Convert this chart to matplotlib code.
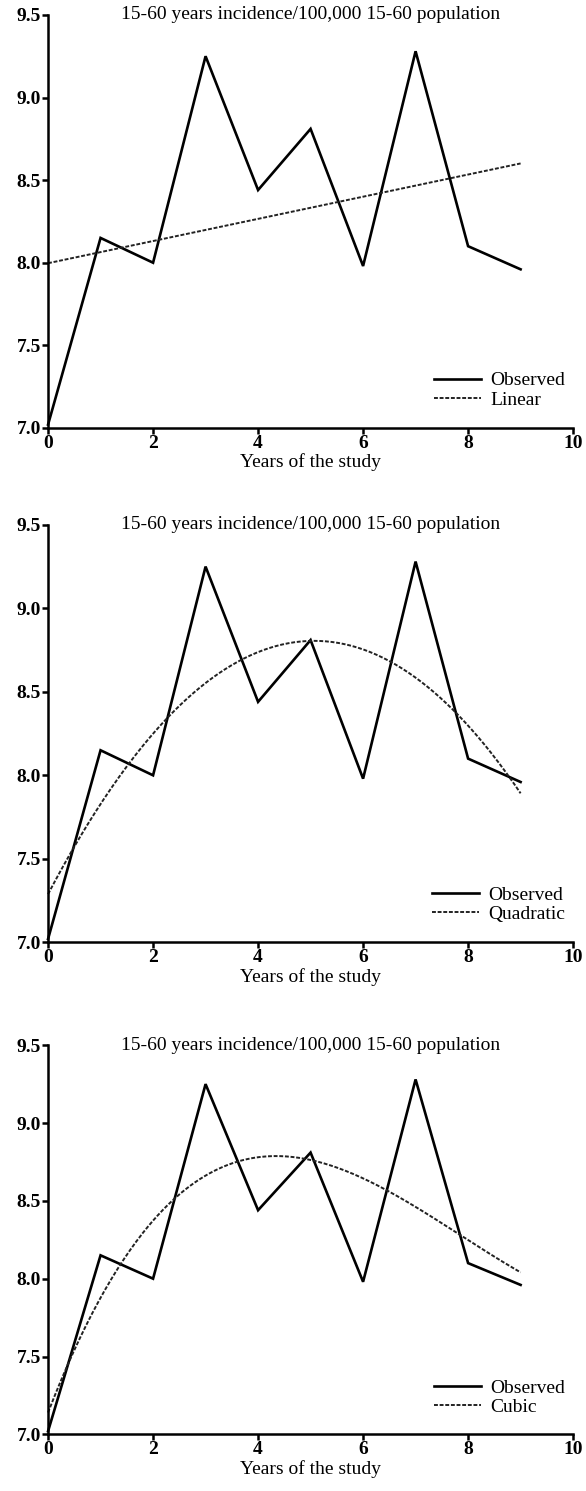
import numpy as np
import matplotlib
matplotlib.use("Agg")
import matplotlib.pyplot as plt

plt.rcParams['font.family'] = ['Liberation Serif', 'DejaVu Serif']

years = [0, 1, 2, 3, 4, 5, 6, 7, 8, 9]
observed = [7.02, 8.15, 8.00, 9.25, 8.44, 8.81, 7.98, 9.28, 8.10, 7.96]
fit_names = ["Linear", "Quadratic", "Cubic"]
fit_degrees = [1, 2, 3]
title = "15-60 years incidence/100,000 15-60 population"
xlabel = "Years of the study"
yticks = [7.0, 7.5, 8.0, 8.5, 9.0, 9.5]
xticks = [0, 2, 4, 6, 8, 10]


def main():
    fig = plt.figure(figsize=(5.86, 14.91), dpi=100)
    # [left, bottom, width, height] in figure fractions
    boxes = [
        [0.082, 0.713, 0.896, 0.277],
        [0.082, 0.368, 0.896, 0.280],
        [0.082, 0.038, 0.896, 0.261],
    ]
    xs = np.linspace(0, 9, 300)
    for box, name, deg in zip(boxes, fit_names, fit_degrees):
        ax = fig.add_axes(box)
        # least-squares polynomial fit of the observed series
        coef = np.polyfit(years, observed, deg)
        ax.plot(years, observed, color="black", lw=1.9, label="Observed",
                solid_joinstyle="miter", clip_on=False)
        ax.plot(xs, np.polyval(coef, xs), color="#222222", lw=1.4,
                linestyle=(0, (2.0, 0.9)), label=name, clip_on=False)
        ax.set_xlim(0, 10)
        ax.set_ylim(7.0, 9.5)
        ax.set_xticks(xticks)
        ax.set_yticks(yticks)
        ax.set_yticklabels([f"{v:.1f}" for v in yticks])
        for s in ["top", "right"]:
            ax.spines[s].set_visible(False)
        for s in ["left", "bottom"]:
            ax.spines[s].set_linewidth(1.8)
        ax.tick_params(direction="out", length=4, width=1.8, pad=1,
                       labelsize=14)
        for lab in ax.get_xticklabels() + ax.get_yticklabels():
            lab.set_fontweight("bold")
        ax.set_xlabel(xlabel, fontsize=14, labelpad=1)
        ax.text(0.5, 1.0, title, transform=ax.transAxes, ha="center",
                va="center", fontsize=14)
        ax.legend(loc="lower right", bbox_to_anchor=(1.0, 0.027),
                  frameon=False, fontsize=14, handlelength=2.4,
                  handletextpad=0.5, labelspacing=0.1, borderaxespad=0.0)
    fig.savefig("out.png", dpi=100)


if __name__ == "__main__":
    main()
